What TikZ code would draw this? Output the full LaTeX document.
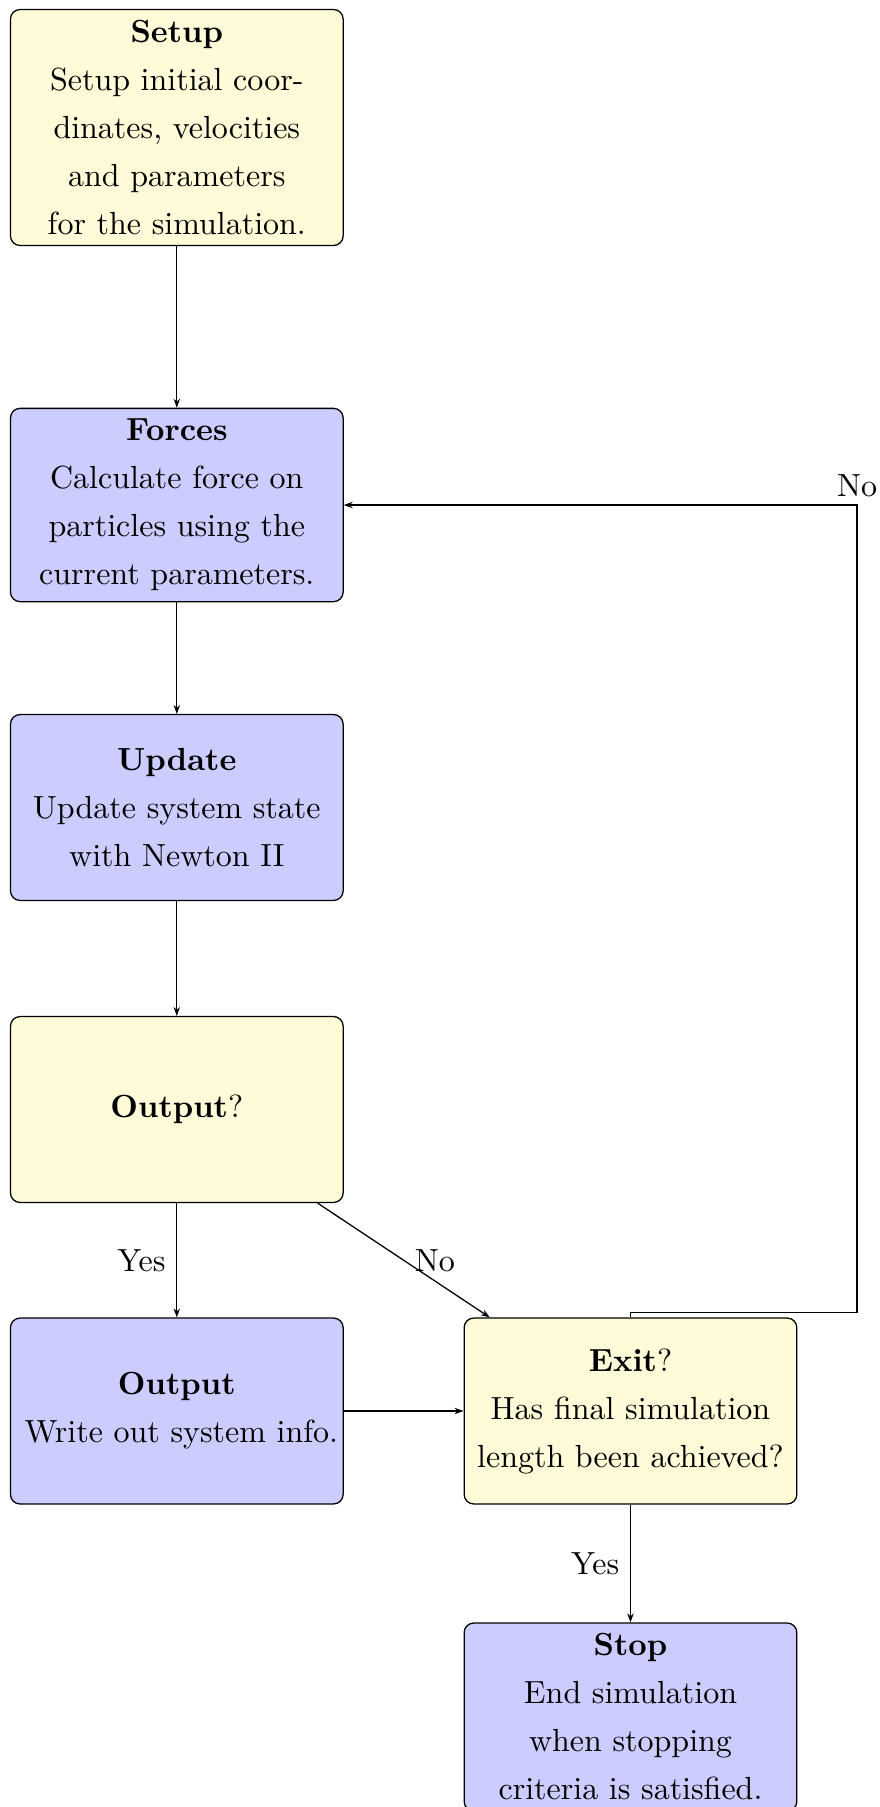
\documentclass[tikz,border=0pt]{standalone}
\usetikzlibrary{arrows.meta}

\definecolor{decisionfill}{RGB}{255,250,216}
\definecolor{processfill}{RGB}{204,204,255}

\tikzset{
  stepbox/.style={rectangle, draw=black, rounded corners=3pt,
    text width=97.3pt, align=center, inner sep=3.333pt,
    minimum height=58.1pt, font=\fontsize{10}{15}\selectfont},
  proc/.style={stepbox, fill=processfill},
  deci/.style={stepbox, fill=decisionfill},
  arr/.style={-{Stealth[length=2.8pt,width=2pt]}, line width=0.4pt},
  lbl/.style={font=\fontsize{10}{12}\selectfont}
}

\begin{document}
\begin{tikzpicture}[x=0.3125pt, y=-0.3125pt]
  \fill[white] (0,0) rectangle (880,1807);
  \useasboundingbox (0,0) rectangle (880,1807);

  % main column
  \node[deci] (setup) at (176.8,127.5)
    {\textbf{Setup}\\Setup initial coor-\\dinates, velocities\\and parameters\\for the simulation.};
  \node[proc] (forces) at (176.8,505)
    {\textbf{Forces}\\Calculate force on\\particles using the\\current parameters.};
  \node[proc] (update) at (176.8,807.5)
    {\textbf{Update}\\Update system state\\with Newton II};
  \node[deci] (outq) at (176.8,1109.5)
    {\textbf{Output}?};
  \node[proc] (outp) at (176.8,1411)
    {\textbf{Output}\\\hspace*{1.1pt}\mbox{Write out system info.}};

  % right column
  \node[deci] (exitq) at (630.5,1411)
    {\textbf{Exit}?\\Has final simulation\\length been achieved?};
  \node[proc] (stop) at (630.5,1717)
    {\textbf{Stop}\\End simulation\\when stopping\\criteria is satisfied.};

  \coordinate (loopc) at (857,505);

  % connectors
  \draw[arr] (setup) -- (forces);
  \draw[arr] (forces) -- (update);
  \draw[arr] (update) -- (outq);
  \draw[arr] (outq) -- node[lbl, left] {Yes} (outp);
  \draw[arr] (outq) -- node[lbl, right] {No} (exitq);
  \draw[arr] (outp) -- (exitq);
  \draw[arr] (exitq) -- node[lbl, left] {Yes} (stop);
  \draw[arr] (exitq.north) -- ++(0,-5) -| (loopc) node[lbl, above, inner sep=2.5pt] {No} -- (forces.east);
\end{tikzpicture}
\end{document}
